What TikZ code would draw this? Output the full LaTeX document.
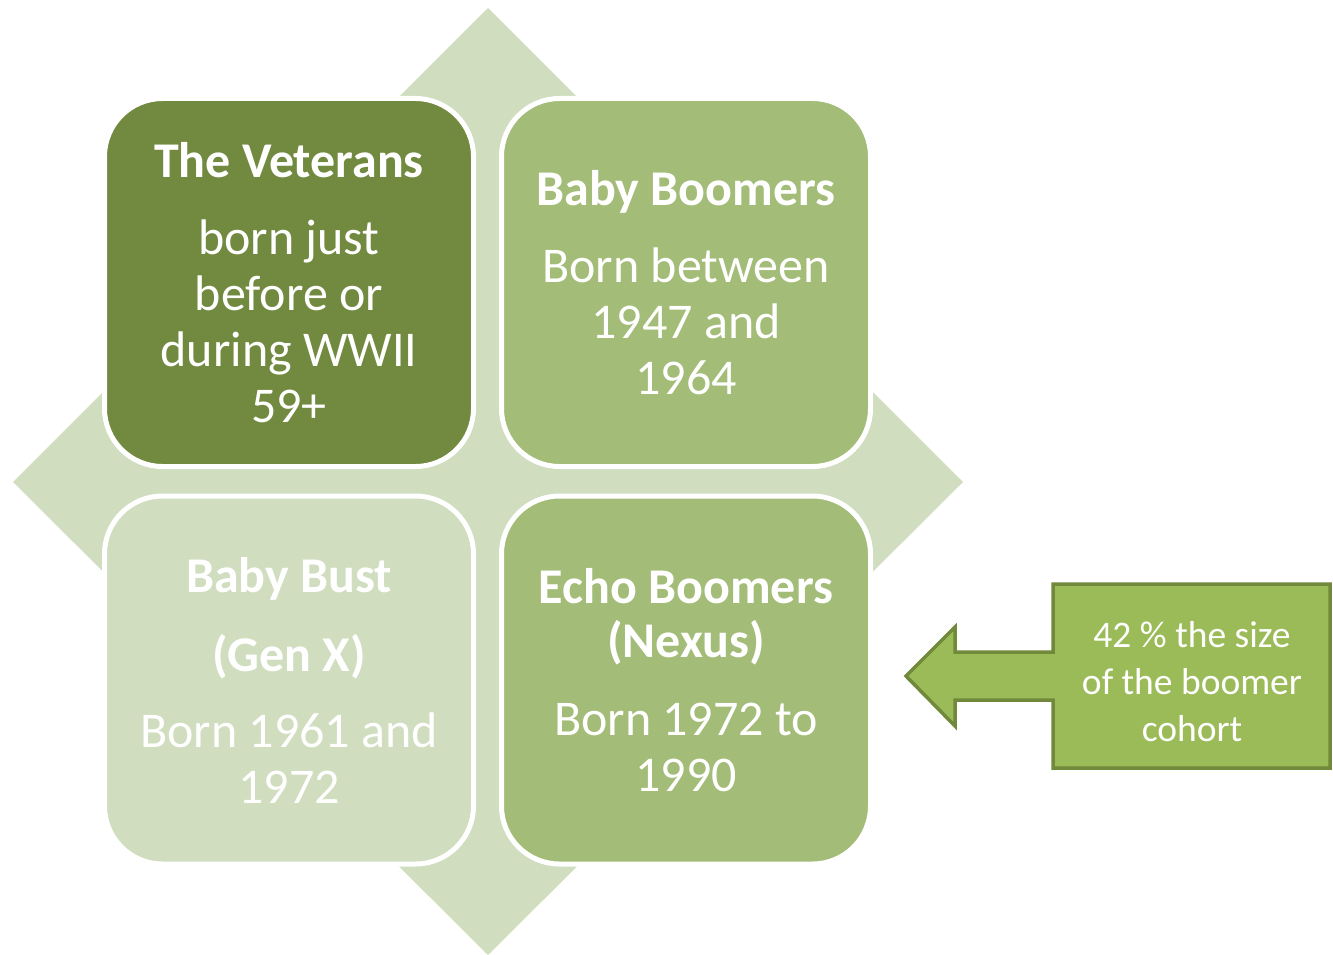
\documentclass[tikz,border=0pt]{standalone}
\usepackage{fontspec}
\setmainfont{Carlito}
\definecolor{vetc}{HTML}{728A3F}
\definecolor{midc}{HTML}{A3BC77}
\definecolor{lightc}{HTML}{D0DDBF}
\definecolor{callfill}{HTML}{9BBB59}
\definecolor{calldraw}{HTML}{71893A}
\tikzset{
  genbox/.style={rectangle, rounded corners=58pt, draw=white, line width=5pt,
    minimum width=369pt, minimum height=368pt, inner sep=0pt, align=center,
    text=white, font=\fontsize{50}{56}\selectfont},
  calltext/.style={align=center, text=white, inner sep=0pt, font=\fontsize{37.5}{47}\selectfont},
}
\begin{document}
\begin{tikzpicture}[x=1pt,y=-1pt]
\fill[white] (0,0) rectangle (1333,955);
\useasboundingbox (0,0) rectangle (1333,955);
% background diamond
\fill[lightc] (488,8) -- (963,482) -- (488,955) -- (13,482) -- cycle;
% four boxes
\node[genbox, fill=vetc] (vet) at (289,282.5) {{\bfseries The Veterans}\\[21pt] born just\\ before or\\ during WWII\\ 59+};
\node[genbox, fill=midc] (boom) at (686,282.5) {{\bfseries Baby Boomers}\\[21pt] Born between\\ 1947 and\\ 1964};
\node[genbox, fill=lightc] (bust) at (289,680) {{\bfseries Baby Bust}\\[23pt] {\bfseries (Gen X)}\\[20pt] Born 1961 and\\ 1972};
\node[genbox, fill=midc] (echo) at (686,680) {{\bfseries Echo Boomers}\\[-2pt] {\bfseries (Nexus)}\\[22pt] Born 1972 to\\ 1990};
% callout arrow
\fill[callfill, draw=calldraw, line width=3.5pt, line join=miter]
  (1053,584) -- (1330,584) -- (1330,768) -- (1053,768) -- (1053,700) -- (955,700)
  -- (955,726) -- (906,676) -- (955,627) -- (955,652) -- (1053,652) -- cycle;
\node[calltext] (callout) at (1192,682) {42 \% the size\\ of the boomer\\ cohort};
\end{tikzpicture}
\end{document}
